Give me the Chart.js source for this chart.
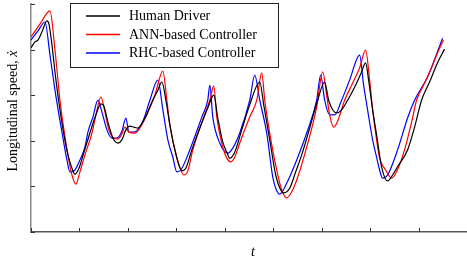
<!DOCTYPE html>
<html>
<head>
<meta charset="utf-8">
<script src="https://cdn.jsdelivr.net/npm/chart.js@4.4.1/dist/chart.umd.min.js"></script>
<style>
html,body{margin:0;padding:0;background:#fff;}
#wrap{width:467px;height:263px;position:relative;}
</style>
</head>
<body>
<div id="wrap"><canvas id="c" width="467" height="263"></canvas></div>
<script>
// ---- data (time units: 10 per x tick, speed units: 10 per y tick) ----
const xTicks = [0,10,20,30,40,50,60,70,80,90];
const yTicks = [0,10,20,30,40,50];

const timeHuman = [0,0.82,1.44,2.27,3.3,3.71,4.33,5.15,5.98,6.8,7.63,8.45,9.07,9.9,10.93,12.16,13.4,14.43,15.05,15.88,16.91,17.94,18.76,19.59,20.41,21.24,22.06,23.51,24.95,26.19,27.01,27.84,28.66,29.69,30.52,31.13,31.96,33.2,34.85,36.49,37.73,38.56,39.59,40.41,41.03,42.06,43.51,45.15,47.22,48.04,49.28,50.52,51.55,52.16,53.4,54.64,55.88,57.53,59.18,60.62,61.44,62.27,63.09,64.12,65.36,67.01,68.25,69.07,69.69,70.52,71.34,72.37,73.61,74.64,75.67,77.73,79.18,80.62,82.27,83.92,85.36];
const speedHuman = [40.4,41.7,42.1,43.9,46.3,45.6,41.0,33.3,26.8,21.3,16.9,14.0,12.7,14.0,17.5,21.7,25.7,28.1,27.6,24.1,20.6,19.5,20.2,22.4,23.2,23.0,22.8,25.0,28.5,31.1,32.9,28.9,23.5,18.0,14.7,13.4,14.0,18.0,22.8,27.2,30.0,25.0,19.7,17.5,16.2,17.5,22.4,27.9,32.9,27.9,20.2,12.5,9.2,8.6,9.6,13.2,16.9,22.8,28.9,32.9,28.9,26.8,26.1,26.8,28.9,32.2,35.1,37.1,33.3,26.8,21.3,14.3,11.2,12.5,14.3,18.0,23.0,28.9,32.9,37.1,40.1];

const timeANN = [0,1.86,3.92,4.95,5.98,6.8,7.63,8.45,9.28,10.1,11.13,12.58,13.4,14.43,15.26,16.08,17.11,17.94,18.76,19.38,20.21,21.44,22.47,23.92,25.57,27.22,28.04,28.66,30.1,31.55,32.37,33.4,35.46,36.91,37.73,38.35,39.59,40.41,41.24,42.06,43.09,45.15,46.6,47.63,48.25,49.28,50.72,51.75,52.78,53.81,54.85,56.91,58.97,60.21,61.03,61.65,62.47,63.3,64.74,66.19,67.84,69.07,69.9,70.52,71.34,71.96,73.2,74.43,75.46,77.11,78.56,79.59,81.03,82.68,83.92,85.15];
const speedANN = [42.8,45.6,48.5,39.9,28.9,22.4,16.9,12.5,10.5,13.2,16.9,21.7,25.7,29.6,26.3,22.4,20.6,20.4,21.5,23.0,21.9,21.7,22.8,25.7,30.0,35.3,28.9,23.5,16.4,12.5,13.4,18.0,24.6,28.9,32.0,25.2,18.6,16.2,15.4,16.4,19.5,25.2,28.9,34.9,28.9,21.7,13.6,9.2,7.5,8.8,11.4,18.6,27.4,35.1,30.0,25.7,23.0,24.3,28.9,32.2,36.0,39.9,33.3,26.8,20.2,16.2,13.6,11.8,13.2,18.0,24.1,28.9,32.2,36.0,39.3,42.1];

const timeRHC = [0,1.44,2.89,3.92,4.95,5.77,6.6,7.42,8.04,8.87,10.1,11.13,11.75,12.78,13.81,14.64,15.67,16.7,17.73,18.76,19.59,20.21,21.24,23.09,24.54,26.19,27.22,28.25,29.28,30.1,30.93,32.78,35.26,36.49,36.91,37.53,38.97,40.62,41.65,43.09,45.15,46.19,47.22,48.66,49.9,50.52,51.34,52.78,54.85,56.91,58.97,59.79,60.62,61.65,62.68,64.12,65.77,67.84,68.66,69.48,70.52,71.34,71.96,72.58,73.61,75.67,77.73,79.18,81.86,83.51,84.95];
const speedRHC = [42.1,44.1,46.05,38.8,31.1,25.7,20.6,15.8,13.2,13.4,15.8,18.6,21.9,25.2,28.9,26.3,22.4,20.6,20.6,22.1,25.0,21.9,21.9,24.3,28.9,33.3,26.8,20.2,16.4,13.2,13.6,18.0,25.2,28.9,32.2,25.2,19.5,17.3,18.4,21.7,28.9,34.4,28.9,21.7,12.1,9.6,8.3,10.7,15.8,21.7,28.9,34.4,28.9,25.7,25.7,28.9,33.3,38.8,32.2,26.8,20.2,16.4,13.6,11.8,12.5,18.0,25.0,28.9,34.0,38.4,42.5];

const seriesLabels = ['Human Driver','ANN-based Controller','RHC-based Controller'];
const seriesColors = ['#000000','#ff0000','#0000ff'];
const yTitleMain = 'Longitudinal speed, ';
const yTitleVar = 'ẋ';
const xTitle = 't';

const FONT = '"Liberation Serif", "Times New Roman", serif';

function pts(xs, ys){ return xs.map((x,i)=>({x:x, y:ys[i]})); }

const innerTicks = {
  id:'innerTicks',
  afterDraw(chart){
    const {ctx, chartArea:a, scales} = chart;
    ctx.save();
    ctx.strokeStyle = '#333';
    ctx.lineWidth = 1;
    ctx.beginPath();
    xTicks.forEach(v=>{
      const px = Math.round(scales.x.getPixelForValue(v))+0.5;
      ctx.moveTo(px, a.bottom); ctx.lineTo(px, a.bottom-4);
    });
    yTicks.forEach(v=>{
      const py = Math.round(scales.y.getPixelForValue(v))+0.5;
      ctx.moveTo(a.left, py); ctx.lineTo(a.left+4, py);
    });
    ctx.stroke();

    // y title (rotated, with italic variable)
    ctx.fillStyle = '#000';
    ctx.translate(13, 111);
    ctx.rotate(-Math.PI/2);
    ctx.textBaseline = 'middle';
    ctx.font = '14px ' + FONT;
    const w1 = ctx.measureText(yTitleMain).width;
    ctx.font = 'italic 14px ' + FONT;
    const w2 = ctx.measureText(yTitleVar).width;
    const start = -(w1+w2)/2;
    ctx.font = '14px ' + FONT;
    ctx.textAlign = 'left';
    ctx.fillText(yTitleMain, start, 0);
    ctx.font = 'italic 14px ' + FONT;
    ctx.fillText(yTitleVar, start + w1, 0);
    ctx.restore();

    // legend box
    ctx.save();
    const bx = 70.5, by = 3.5, bw = 208, bh = 64;
    ctx.fillStyle = '#fff';
    ctx.fillRect(bx, by, bw, bh);
    ctx.strokeStyle = '#222';
    ctx.lineWidth = 1;
    ctx.strokeRect(bx, by, bw, bh);
    ctx.font = '14px ' + FONT;
    ctx.textBaseline = 'middle';
    ctx.textAlign = 'left';
    const rows = [16, 34.5, 53];
    chart.data.datasets.forEach((ds,i)=>{
      ctx.strokeStyle = ds.borderColor;
      ctx.lineWidth = 1.3;
      ctx.beginPath();
      ctx.moveTo(86, rows[i]); ctx.lineTo(120, rows[i]);
      ctx.stroke();
      ctx.fillStyle = '#000';
      ctx.fillText(ds.label, 129, rows[i]+0.5);
    });
    ctx.restore();

    // x title
    ctx.save();
    ctx.fillStyle = '#000';
    ctx.font = 'italic 14px ' + FONT;
    ctx.textAlign = 'center';
    ctx.textBaseline = 'middle';
    ctx.fillText(xTitle, 253, 252);
    ctx.restore();
  }
};

new Chart(document.getElementById('c'), {
  type:'line',
  data:{
    datasets:[
      {label:seriesLabels[0], data:pts(timeHuman, speedHuman), borderColor:seriesColors[0]},
      {label:seriesLabels[1], data:pts(timeANN, speedANN), borderColor:seriesColors[1]},
      {label:seriesLabels[2], data:pts(timeRHC, speedRHC), borderColor:seriesColors[2]}
    ].map(d=>Object.assign(d,{borderWidth:1.2, pointRadius:0, fill:false, cubicInterpolationMode:'monotone'}))
  },
  options:{
    responsive:false,
    animation:false,
    devicePixelRatio:1,
    layout:{padding:{top:4,right:0,left:0,bottom:0}},
    plugins:{legend:{display:false}, tooltip:{enabled:false}},
    scales:{
      x:{type:'linear', min:0, max:90,
         ticks:{display:false, stepSize:10},
         grid:{display:false, drawTicks:false},
         border:{display:true, color:'#555', width:1.5},
         afterFit(s){ s.height = 31; }
      },
      y:{type:'linear', min:0, max:50,
         ticks:{display:false, stepSize:10},
         grid:{display:false, drawTicks:false},
         border:{display:true, color:'#888', width:1.5},
         afterFit(s){ s.width = 31; }
      }
    }
  },
  plugins:[innerTicks]
});
</script>
</body>
</html>
